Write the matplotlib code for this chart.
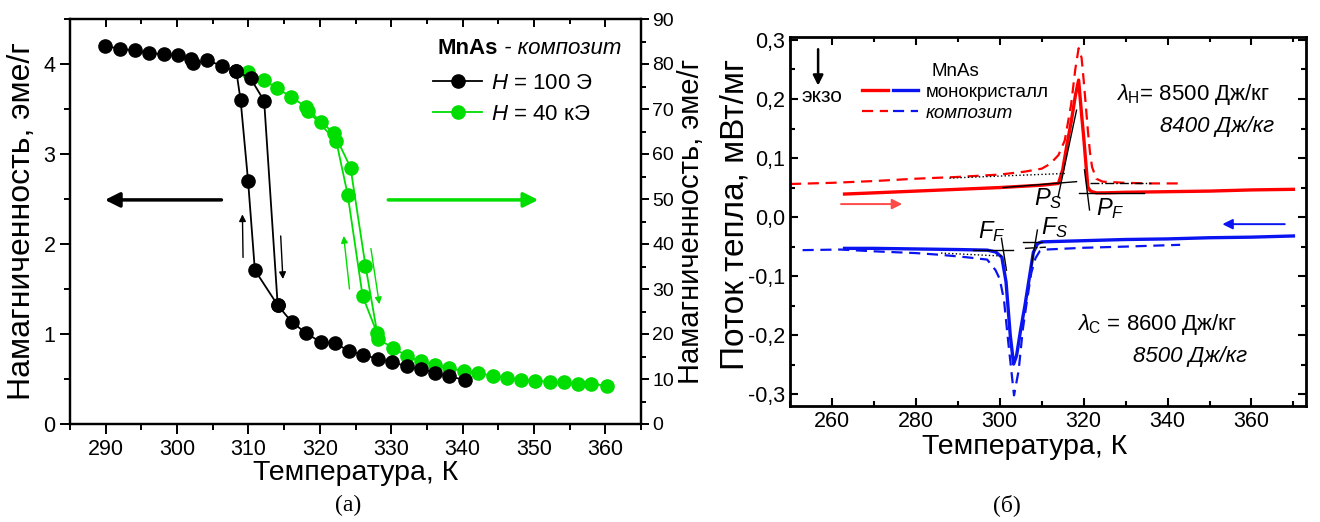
import matplotlib
matplotlib.use('Agg')
import matplotlib.pyplot as plt
from matplotlib.ticker import MultipleLocator, FuncFormatter
from matplotlib.lines import Line2D
from matplotlib.legend_handler import HandlerTuple

plt.rcParams['font.family'] = ['Liberation Sans', 'DejaVu Sans']
plt.rcParams['mathtext.fontset'] = 'custom'
plt.rcParams['mathtext.rm'] = 'Liberation Sans'
plt.rcParams['mathtext.it'] = 'Liberation Sans:italic'
plt.rcParams['mathtext.bf'] = 'Liberation Sans:bold'

# ---------------- data: (a) magnetization ----------------
T_100_heat = [289.9, 292.0, 294.1, 296.1, 298.1, 300.1, 302.0, 302.3, 304.2, 306.3, 308.3,
              310.3, 312.2, 314.1, 316.1, 318.1, 320.1, 322.1, 324.1, 326.1, 328.2, 330.1,
              332.2, 334.2, 336.1, 338.1, 340.3]
M_100_heat = [4.20, 4.17, 4.15, 4.12, 4.11, 4.10, 4.06, 4.01, 4.04, 3.98, 3.92,
              3.84, 3.59, 1.32, 1.13, 1.01, 0.91, 0.90, 0.81, 0.77, 0.72, 0.69,
              0.64, 0.61, 0.57, 0.53, 0.49]
T_100_cool = [314.1, 310.9, 309.95, 308.9, 308.3]
M_100_cool = [1.32, 1.71, 2.70, 3.60, 3.92]

T_40k_heat = [310.0, 312.2, 314.0, 316.0, 318.0, 320.1, 322.0, 324.3, 326.4, 328.2, 330.2,
              332.2, 334.2, 336.2, 338.1, 340.2, 342.2, 344.2, 346.2, 348.2, 350.2, 352.2,
              354.2, 356.2, 358.0, 360.3]
M_40k_heat = [78.3, 76.4, 74.6, 72.7, 70.5, 67.2, 64.6, 57.0, 35.1, 18.8, 17.0,
              15.1, 13.9, 13.1, 12.4, 11.8, 11.3, 10.7, 10.2, 9.8, 9.6, 9.4,
              9.3, 9.0, 8.9, 8.5]
T_40k_cool = [328.0, 326.0, 323.9, 322.3, 318.3]
M_40k_cool = [20.3, 28.4, 51.0, 62.9, 69.6]

# ---------------- data: (б) DSC ----------------
T_mono_heat = [263, 270, 280, 290, 300, 310, 314, 315, 316, 317, 317.5, 318, 318.8, 319.5,
               320, 320.5, 321, 321.5, 322, 323, 325, 330, 340, 350, 360, 370]
Q_mono_heat = [0.039, 0.041, 0.044, 0.047, 0.050, 0.054, 0.057, 0.080, 0.122, 0.160, 0.182,
               0.205, 0.232, 0.174, 0.136, 0.093, 0.051, 0.045, 0.043, 0.041, 0.041, 0.042,
               0.043, 0.044, 0.046, 0.047]
T_comp_heat = [250, 260, 270, 280, 290, 300, 306, 310, 312, 314, 315.5, 317, 318, 318.8,
               319.5, 320, 320.5, 321, 321.5, 322, 323, 324.5, 330, 336, 342.5]
Q_comp_heat = [0.056, 0.058, 0.061, 0.065, 0.068, 0.072, 0.077, 0.082, 0.090, 0.105, 0.130,
               0.190, 0.250, 0.286, 0.270, 0.232, 0.190, 0.147, 0.110, 0.085, 0.065, 0.060,
               0.058, 0.057, 0.057]
T_mono_cool = [263, 270, 280, 290, 297, 299, 300.5, 301.5, 302.5, 303.3, 304, 305, 306, 307,
               308, 309, 310, 320, 330, 340, 350, 360, 370]
Q_mono_cool = [-0.053, -0.053, -0.054, -0.055, -0.056, -0.059, -0.068, -0.110, -0.200, -0.249,
               -0.235, -0.190, -0.150, -0.105, -0.060, -0.045, -0.042, -0.040, -0.038, -0.037,
               -0.035, -0.034, -0.032]
T_comp_cool = [253, 262, 270, 280, 286, 292, 297, 299, 300, 301, 302, 303.4, 304.5, 305.5,
               306.5, 307.5, 308.5, 309.5, 311, 320, 330, 343]
Q_comp_cool = [-0.056, -0.055, -0.058, -0.061, -0.064, -0.068, -0.072, -0.090, -0.105, -0.140,
               -0.210, -0.302, -0.260, -0.190, -0.141, -0.095, -0.070, -0.058, -0.055, -0.052,
               -0.050, -0.047]

# construction (tangent) lines: ((T1, Q1), (T2, Q2))
tangent_lines = [((300.8, 0.050), (318.3, 0.060)), ((313.9, 0.034), (318.3, 0.181)),
                 ((319.0, 0.041), (334.5, 0.041)), ((320.2, 0.080), (321.4, 0.012)),
                 ((293.7, -0.056), (303.2, -0.056)), ((300.4, -0.036), (301.6, -0.090)),
                 ((305.6, -0.043), (310.0, -0.043)), ((308.97, -0.022), (307.5, -0.084))]
dotted_lines = [((288, 0.066), (316, 0.074)), ((286, -0.061), (300.5, -0.066))]
dashdot_lines = [((321.5, 0.058), (336, 0.058)), ((306.0, -0.053), (311, -0.051))]

GREEN = '#00dd00'
RED = '#ff0000'
BLUE = '#0a14f0'

fig = plt.figure(figsize=(13.2, 5.22), dpi=100)

# ================= (a) =================
ax1 = fig.add_axes([70/1320, 1-424/522, 571/1320, 405/522])
ax2 = ax1.twinx()
ax1.set_zorder(ax2.get_zorder() + 1)
ax1.patch.set_visible(False)

ax2.plot(T_40k_heat, M_40k_heat, '-o', color=GREEN, ms=9.5, lw=1.3, mec=GREEN)
ax2.plot(T_40k_cool, M_40k_cool, '-o', color=GREEN, ms=9.5, lw=1.3, mec=GREEN)
ax1.plot(T_100_heat, M_100_heat, '-o', color='black', ms=9.5, lw=1.3)
ax1.plot(T_100_cool, M_100_cool, '-o', color='black', ms=9.5, lw=1.3)

ax1.set_xlim(285, 365)
ax1.set_ylim(0, 4.5)
ax2.set_ylim(0, 90)
ax1.xaxis.set_major_locator(MultipleLocator(10))
ax1.xaxis.set_minor_locator(MultipleLocator(5))
ax1.yaxis.set_major_locator(MultipleLocator(1))
ax1.yaxis.set_minor_locator(MultipleLocator(0.5))
ax2.yaxis.set_major_locator(MultipleLocator(10))
ax2.yaxis.set_minor_locator(MultipleLocator(5))
for a in (ax1, ax2):
    for s in a.spines.values():
        s.set_linewidth(1.6)
ax1.tick_params(which='both', direction='out', width=1.4, labelsize=15.5)
ax1.tick_params(which='major', length=7)
ax1.tick_params(which='minor', length=4)
ax2.tick_params(which='both', direction='out', width=1.4, labelsize=14, pad=2)
ax2.tick_params(which='major', length=6)
ax2.tick_params(which='minor', length=3.5)
ax2.xaxis.set_visible(True)
ax2.tick_params(axis='x', which='both', bottom=False, top=True, labelbottom=False,
                labeltop=False, direction='in')

ax1.set_xlabel('Температура, К', fontsize=20.5)
ax1.xaxis.set_label_coords(0.5, -0.09)
ax1.set_ylabel('Намагниченность, эме/г', fontsize=23)
ax1.yaxis.set_label_coords(-0.058, 0.5)
ax2.set_ylabel('Намагниченность, эме/г', fontsize=21)
ax2.yaxis.set_label_coords(1.063, 0.5)

# arrows (a)
ax1.annotate('', xy=(289.5, 2.49), xytext=(306.6, 2.49),
             arrowprops=dict(arrowstyle='-|>', color='black', lw=2.5, mutation_scale=22))
ax1.annotate('', xy=(351.0, 2.49), xytext=(329.2, 2.49),
             arrowprops=dict(arrowstyle='-|>', color=GREEN, lw=2.5, mutation_scale=22))
ax1.annotate('', xy=(309.15, 2.36), xytext=(309.25, 1.82),
             arrowprops=dict(arrowstyle='-|>', color='black', lw=1.0, mutation_scale=10))
ax1.annotate('', xy=(314.85, 1.58), xytext=(314.5, 2.12),
             arrowprops=dict(arrowstyle='-|>', color='black', lw=1.0, mutation_scale=10))
ax1.annotate('', xy=(323.3, 2.12), xytext=(324.2, 1.47),
             arrowprops=dict(arrowstyle='-|>', color=GREEN, lw=1.0, mutation_scale=10))
ax1.annotate('', xy=(328.4, 1.30), xytext=(327.1, 1.98),
             arrowprops=dict(arrowstyle='-|>', color=GREEN, lw=1.0, mutation_scale=10))

# legend (a)
t1 = ax2.text(0.643, 0.928, 'MnAs', transform=ax2.transAxes, fontsize=16,
              fontweight='bold', ha='left', va='center')
ax2.annotate(' - композит', xy=(1, 0), xycoords=t1, fontsize=16, style='italic',
             ha='left', va='bottom')
h1 = Line2D([], [], color='black', marker='o', ms=9.5, lw=1.3)
h2 = Line2D([], [], color=GREEN, marker='o', ms=9.5, lw=1.3, mec=GREEN)
ax2.legend([h1, h2], ['$\\mathit{H}$ = 100 Э', '$\\mathit{H}$ = 40 кЭ'],
           loc='upper left', bbox_to_anchor=(0.636, 0.866), frameon=False,
           fontsize=16, handlelength=2.2, handletextpad=0.4, borderpad=0,
           borderaxespad=0, labelspacing=0.45)

# ================= (б) =================
ax = fig.add_axes([790/1320, 1-406/522, 516/1320, 369/522])
for (p, q) in dotted_lines:
    ax.plot([p[0], q[0]], [p[1], q[1]], ':', color='black', lw=1.0, zorder=4)
for (p, q) in dashdot_lines:
    ax.plot([p[0], q[0]], [p[1], q[1]], '-.', color='black', lw=1.0, zorder=4)
ax.plot(T_comp_heat, Q_comp_heat, '--', color=RED, lw=1.6, dashes=(5, 3))
ax.plot(T_comp_cool, Q_comp_cool, '--', color=BLUE, lw=1.6, dashes=(5, 3))
ax.plot(T_mono_heat, Q_mono_heat, '-', color=RED, lw=2.4)
ax.plot(T_mono_cool, Q_mono_cool, '-', color=BLUE, lw=2.4)
for (p, q) in tangent_lines:
    ax.plot([p[0], q[0]], [p[1], q[1]], '-', color='black', lw=1.0, zorder=5)

ax.set_xlim(250, 373)
ax.set_ylim(-0.32, 0.305)
ax.xaxis.set_major_locator(MultipleLocator(20))
ax.xaxis.set_minor_locator(MultipleLocator(10))
ax.yaxis.set_major_locator(MultipleLocator(0.1))
ax.yaxis.set_minor_locator(MultipleLocator(0.05))
ax.yaxis.set_major_formatter(FuncFormatter(lambda v, p: f'{v:.1f}'.replace('.', ',').replace('-0,0', '0,0')))
for s in ax.spines.values():
    s.set_linewidth(2.0)
ax.tick_params(which='both', direction='in', top=True, right=True, width=1.5, labelsize=15.5)
ax.tick_params(which='major', length=6)
ax.tick_params(which='minor', length=3.5)
ax.set_xlabel('Температура, К', fontsize=20.5)
ax.xaxis.set_label_coords(0.455, -0.075)
ax.set_ylabel('Поток тепла, мВт/мг', fontsize=24)
ax.yaxis.set_label_coords(-0.0775, 0.52)

# texts (б)
ax.text(252.8, 0.195, 'экзо', fontsize=15, ha='left', va='baseline')
ax.annotate('', xy=(256.7, 0.218), xytext=(256.7, 0.289),
            arrowprops=dict(arrowstyle='-|>', color='black', lw=1.8, mutation_scale=15))
ax.annotate('', xy=(277.4, 0.022), xytext=(261.5, 0.022),
            arrowprops=dict(arrowstyle='-|>', color='#ff4a4a', lw=1.4, mutation_scale=15))
ax.annotate('', xy=(352.4, -0.012), xytext=(368.6, -0.012),
            arrowprops=dict(arrowstyle='-|>', color=BLUE, lw=1.4, mutation_scale=15))
ax.text(327.8, 0.198, '$\\mathit{λ}_{\\mathrm{H}}$= 8500 Дж/кг', fontsize=16, ha='left', va='baseline')
ax.text(338.1, 0.1446, '8400 Дж/кг', fontsize=16, style='italic', ha='left', va='baseline')
ax.text(318.3, -0.1915, '$\\mathit{λ}_{\\mathrm{C}}$ = 8600 Дж/кг', fontsize=16, ha='left', va='baseline')
ax.text(331.7, -0.245, '8500 Дж/кг', fontsize=16, style='italic', ha='left', va='baseline')
ax.text(308.1, 0.020, '$P_S$', fontsize=17, ha='left', va='baseline')
ax.text(323.0, 0.003, '$P_F$', fontsize=17, ha='left', va='baseline')
ax.text(294.8, -0.036, '$F_F$', fontsize=17, ha='left', va='baseline')
ax.text(309.9, -0.029, '$F_S$', fontsize=17, ha='left', va='baseline')

r1 = Line2D([], [], color=RED, lw=2.4)
b1 = Line2D([], [], color=BLUE, lw=2.4)
r2 = Line2D([], [], color=RED, lw=1.6, ls='--', dashes=(5, 3))
b2 = Line2D([], [], color=BLUE, lw=1.6, ls='--', dashes=(5, 3))
leg = ax.legend([(r1, b1), (r2, b2)], ['монокристалл', 'композит'],
                handler_map={tuple: HandlerTuple(ndivide=None, pad=0.3)},
                title='MnAs', title_fontsize=13.5, fontsize=13.5, frameon=False,
                loc='upper left', bbox_to_anchor=(0.14, 0.93), borderpad=0,
                borderaxespad=0, handlelength=3.0, handletextpad=0.4, labelspacing=0.2)
leg.get_texts()[1].set_style('italic')

fig.text(348/1320, 1-505/522, '(а)', fontsize=17, family='Liberation Serif', ha='center', va='center')
fig.text(1007/1320, 1-505/522, '(б)', fontsize=17, family='Liberation Serif', ha='center', va='center')

fig.savefig('out.png', dpi=100)
